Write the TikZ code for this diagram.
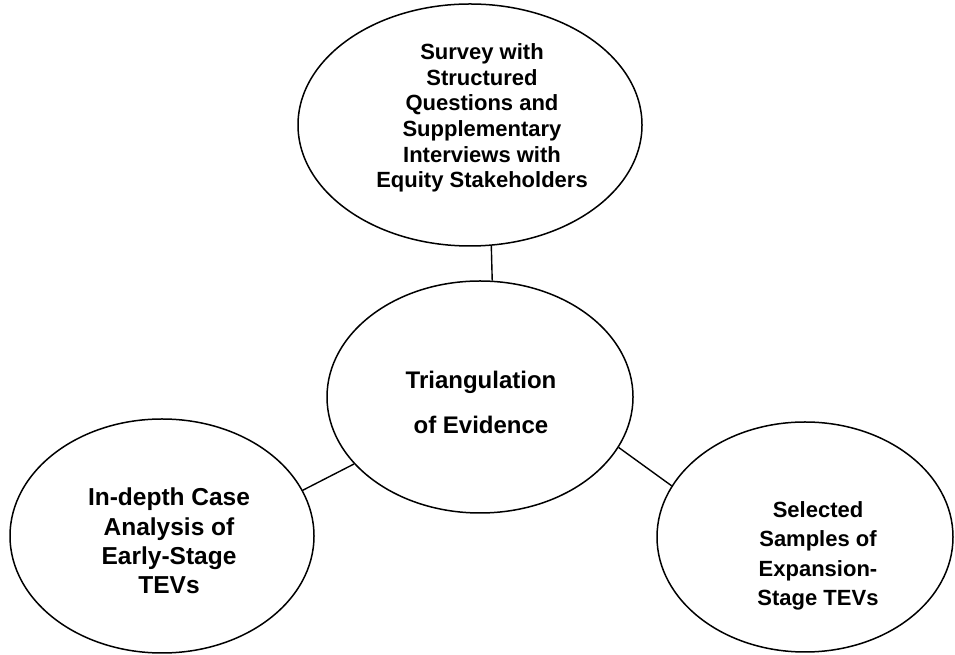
\documentclass[tikz,border=0pt]{standalone}
\usepackage{fontspec}
\setmainfont{Liberation Sans}
\usetikzlibrary{shapes.geometric}
\tikzset{
  bubble/.style={ellipse, draw=black, line width=1.5pt, inner sep=0pt},
  caption/.style={align=center, inner sep=0pt},
  link/.style={line width=1.4pt}
}
\begin{document}
\begin{tikzpicture}[x=1pt,y=1pt]
\useasboundingbox (0,0) rectangle (955,655);

% the four ellipses
\node[bubble, minimum width=344pt, minimum height=242pt] (survey) at (470,530) {};
\node[bubble, minimum width=306pt, minimum height=232pt] (hub) at (480,258) {};
\node[bubble, minimum width=304pt, minimum height=234pt] (cases) at (162,119) {};
\node[bubble, minimum width=296pt, minimum height=230pt] (samples) at (805,118) {};

% their texts
\node[caption, font=\bfseries\fontsize{22}{25.7}\selectfont] (surveyText) at (482,537)
  {Survey with\\Structured\\Questions and\\Supplementary\\Interviews with\\Equity Stakeholders};
\node[caption, font=\bfseries\fontsize{24}{45}\selectfont] (hubText) at (481,253)
  {Triangulation\\of Evidence};
\node[caption, font=\bfseries\fontsize{24.5}{29.3}\selectfont] (casesText) at (169,114)
  {In-depth Case\\Analysis of\\Early-Stage\\TEVs};
\node[caption, font=\bfseries\fontsize{22}{29.3}\selectfont] (samplesText) at (818,99)
  {Selected\\Samples of\\Expansion-\\Stage TEVs};

% connectors between the ellipses
\draw[link] (survey.280.4) -- (hub.84.1);
\draw[link] (cases.18.6) -- (hub.208.2);
\draw[link] (hub.340.5) -- (samples.159.8);
\end{tikzpicture}
\end{document}
